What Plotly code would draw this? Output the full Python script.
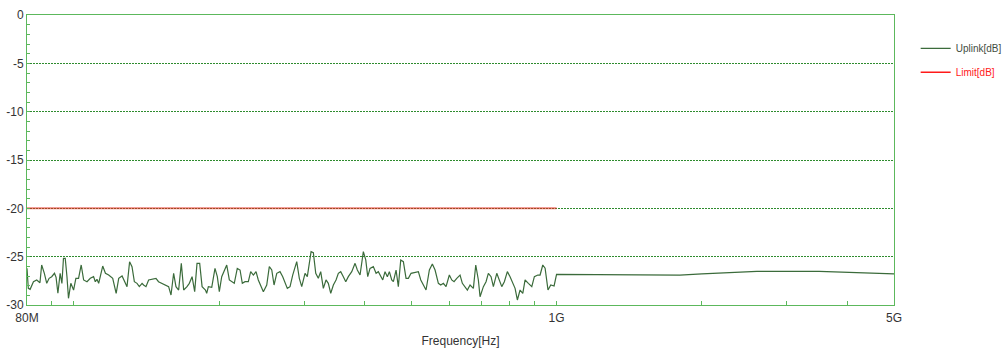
import plotly.graph_objects as go

# Uplink sweep, frequency in MHz and level in dB
uplink_freq_mhz = [
    80.0, 80.5, 81.2, 82.5, 83.8, 85.1, 85.8, 86.9, 87.9, 88.9,
    90.0, 91.2, 91.9, 92.7, 93.7, 94.5, 95.2, 96.0, 96.8, 97.5,
    98.6, 99.9, 101.0, 102.3, 103.6, 104.8, 106.5, 108.2, 109.9, 110.8,
    111.7, 112.6, 114.8, 116.3, 118.1, 120.4, 122.4, 123.9, 125.9, 127.5,
    128.9, 130.5, 132.0, 133.5, 135.2, 136.7, 138.5, 139.5, 141.1, 142.9,
    145.2, 148.0, 149.8, 152.3, 154.7, 157.2, 159.0, 161.0, 162.8, 164.9,
    167.0, 168.9, 171.6, 173.5, 175.8, 178.0, 180.0, 182.3, 184.4, 187.4,
    188.5, 190.0, 193.1, 196.1, 198.3, 200.2, 202.5, 204.7, 207.4, 210.0,
    213.0, 215.0, 218.1, 221.0, 223.4, 226.3, 229.9, 232.5, 235.5, 238.5,
    241.1, 243.9, 247.0, 251.0, 254.1, 257.1, 259.9, 263.3, 267.4, 270.9,
    273.9, 276.9, 280.5, 284.1, 289.6, 293.2, 296.6, 301.3, 304.6, 310.1,
    313.5, 317.1, 321.0, 324.7, 328.8, 333.0, 336.7, 340.6, 344.9, 349.3,
    353.2, 357.2, 361.7, 365.9, 370.4, 376.5, 382.5, 386.7, 391.7, 397.9,
    402.5, 406.3, 410.8, 417.3, 422.8, 427.4, 436.5, 441.3, 446.2, 450.5,
    455.6, 459.2, 465.1, 470.2, 475.6, 481.6, 487.8, 493.2, 499.6, 509.2,
    517.3, 523.3, 529.7, 536.6, 545.2, 553.0, 560.2, 569.1, 575.6, 582.8,
    590.3, 599.7, 606.6, 613.3, 621.3, 631.1, 638.1, 646.4, 653.5, 662.0,
    672.5, 680.2, 688.7, 694.3, 705.4, 714.4, 722.3, 731.7, 739.8, 751.9,
    760.1, 770.0, 779.6, 790.8, 801.1, 811.5, 820.5, 829.5, 840.3, 851.2,
    860.6, 874.3, 888.6, 899.6, 914.4, 924.4, 936.4, 946.8, 960.0, 972.8,
    988.2, 1000.0, 1400.0, 1800.0, 2000.0, 2200.0, 2600.0, 3500.0, 4300.0, 5000.0,
]
uplink_db = [
    -26.21, -28.28, -28.38, -27.59, -27.41, -27.69, -25.86, -26.72, -27.76, -27.24,
    -27.07, -26.72, -27.14, -28.79, -26.72, -27.76, -25.17, -25.17, -27.07, -29.31,
    -27.76, -28.45, -27.24, -27.24, -25.86, -27.41, -27.59, -27.24, -27.07, -27.59,
    -27.34, -27.76, -25.97, -26.72, -26.90, -27.24, -28.79, -27.24, -27.00, -27.59,
    -28.10, -25.52, -26.03, -27.59, -27.76, -28.10, -27.76, -27.93, -28.10, -27.41,
    -27.34, -27.24, -27.59, -27.76, -27.93, -28.10, -28.97, -26.72, -28.10, -28.45,
    -25.69, -28.45, -28.10, -27.76, -27.07, -28.62, -25.69, -25.69, -28.10, -28.45,
    -28.79, -28.10, -28.17, -26.21, -27.07, -28.62, -27.07, -26.55, -25.86, -27.41,
    -27.59, -27.76, -26.21, -26.38, -27.76, -27.59, -27.59, -26.55, -26.90, -26.55,
    -27.41, -27.93, -28.62, -27.93, -26.03, -26.38, -27.93, -26.72, -26.55, -27.07,
    -27.76, -28.28, -28.10, -26.90, -25.52, -27.24, -28.10, -26.72, -27.07, -24.48,
    -24.59, -26.72, -27.24, -26.55, -28.28, -27.41, -27.76, -28.79, -27.93, -27.41,
    -26.72, -26.55, -27.07, -27.59, -27.07, -26.55, -25.69, -26.38, -26.90, -24.48,
    -25.34, -27.07, -26.21, -26.03, -26.72, -26.55, -27.41, -26.55, -27.07, -26.55,
    -27.41, -27.59, -26.38, -28.10, -25.34, -25.52, -27.24, -27.24, -26.72, -26.66,
    -26.55, -27.41, -27.93, -28.45, -26.38, -25.76, -26.38, -27.76, -27.93, -27.76,
    -28.10, -26.90, -27.41, -27.59, -27.24, -26.90, -27.76, -28.10, -28.45, -27.93,
    -28.28, -25.86, -27.41, -29.14, -28.10, -27.59, -26.72, -27.07, -28.10, -26.72,
    -27.41, -28.10, -27.59, -26.55, -27.07, -27.76, -28.28, -29.48, -28.45, -28.79,
    -27.41, -27.76, -28.10, -27.07, -26.90, -26.90, -25.86, -26.20, -28.45, -27.93,
    -28.03, -26.83, -26.85, -26.90, -26.78, -26.66, -26.52, -26.52, -26.66, -26.79,
]

# Limit line, frequency in MHz and level in dB
limit_freq_mhz = [80.0, 1000.0]
limit_db = [-20.0, -20.0]

# Axis ticks
x_tick_hz = [80e6, 1e9, 5e9]
x_tick_text = ["80M", "1G", "5G"]
x_minor_hz = [90e6, 100e6, 200e6, 300e6, 400e6, 500e6, 600e6, 700e6, 800e6,
              900e6, 2e9, 3e9, 4e9]
y_tick_vals = [0, -5, -10, -15, -20, -25, -30]
y_tick_text = ["0", "-5", "-10", "-15", "-20", "-25", "-30"]

FONT = "Liberation Sans, Arial, sans-serif"
BORDER = "#5cb85c"
UPLINK_COLOR = "#3b6b3b"

fig = go.Figure()
fig.add_trace(go.Scatter(
    x=[f * 1e6 for f in uplink_freq_mhz], y=uplink_db, mode="lines",
    name="<span style='color:#3f4d3f'>Uplink[dB]</span>",
    line=dict(color=UPLINK_COLOR, width=1.2), legendgroup="a",
))
# the limit is drawn semi-transparent so the grid shows through it
fig.add_trace(go.Scatter(
    x=[f * 1e6 for f in limit_freq_mhz], y=limit_db, mode="lines",
    line=dict(color="rgba(230,40,30,0.6)", width=2), legendgroup="b",
    showlegend=False,
))
# legend entry for the limit in solid red
fig.add_trace(go.Scatter(
    x=[None], y=[None], mode="lines",
    name="<span style='color:#ff2020'>Limit[dB]</span>",
    line=dict(color="#ff1a1a", width=1.5), legendgroup="b",
))

fig.update_layout(
    width=1002, height=349,
    margin=dict(l=27, r=108, t=15, b=44, autoexpand=False),
    paper_bgcolor="white", plot_bgcolor="white",
    font=dict(family=FONT, size=12, color="#333333"),
    showlegend=True,
    legend=dict(
        x=1.025, y=0.935, xanchor="left", yanchor="top",
        font=dict(family=FONT, size=10),
        traceorder="grouped", tracegroupgap=5,
        bgcolor="rgba(0,0,0,0)",
    ),
    xaxis=dict(
        type="log",
        range=[7.90309, 9.69897],
        tickmode="array", tickvals=x_tick_hz, ticktext=x_tick_text,
        ticks="inside", ticklen=4, tickcolor=BORDER, ticklabelstandoff=2,
        showgrid=False, zeroline=False, automargin=False,
        showline=True, mirror=True, linecolor=BORDER, linewidth=1,
        minor=dict(tickmode="array", tickvals=x_minor_hz, ticks="inside",
                   ticklen=4, tickcolor=BORDER, showgrid=False),
        title=dict(text="Frequency[Hz]", font=dict(size=12, color="#333333"),
                   standoff=12),
        tickfont=dict(size=12, color="#333333"),
    ),
    yaxis=dict(
        range=[-30, 0],
        tickmode="array", tickvals=y_tick_vals, ticktext=y_tick_text,
        ticks="inside", ticklen=3, tickcolor=BORDER,
        showgrid=True, gridcolor="#2e8b2e", griddash="2px,1px", gridwidth=1,
        zeroline=False, automargin=False,
        showline=True, mirror=True, linecolor=BORDER, linewidth=1,
        minor=dict(dtick=1, ticks="inside", ticklen=3, tickcolor=BORDER,
                   showgrid=False),
        tickfont=dict(size=12, color="#333333"),
    ),
)

fig.write_html("out.html")
